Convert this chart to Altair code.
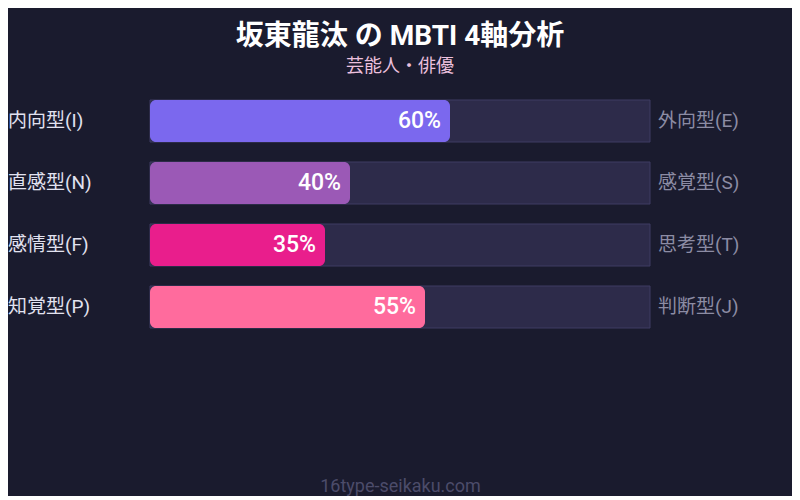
import altair as alt
import pandas as pd

left_labels = ["内向型(I)", "直感型(N)", "感情型(F)", "知覚型(P)"]
right_labels = ["外向型(E)", "感覚型(S)", "思考型(T)", "判断型(J)"]
values = [60, 40, 35, 55]
bar_colors = ["#7b68ee", "#9b59b6", "#e91e8c", "#ff6b9d"]

title_text = "坂東龍汰 の MBTI 4軸分析"
subtitle_text = "芸能人・俳優"
footer_text = "16type-seikaku.com"

df = pd.DataFrame({
    "left": left_labels,
    "right": right_labels,
    "value": values,
    "pct": [f"{v}%" for v in values],
    "start": [0] * 4,
    "end": [100] * 4,
})

FONT = "Roboto, 'Noto Sans CJK JP', sans-serif"
BG = "#1a1b2e"

xscale = alt.Scale(domain=[0, 100], nice=False, zero=False)
yenc = alt.Y("left:N", sort=left_labels, axis=None,
             scale=alt.Scale(paddingInner=20 / 62, paddingOuter=10 / 62))

base = alt.Chart(df)

track = base.mark_bar(color="#2d2b4a", stroke="#3f3d63", strokeWidth=1, cornerRadius=0).encode(
    x=alt.X("start:Q", scale=xscale,
            axis=alt.Axis(labels=False, ticks=False, domain=False, grid=False,
                          title=footer_text, titleFontSize=18, titleColor="#4c4c6a",
                          titleFontWeight="normal", titleFont=FONT,
                          titleBaseline="alphabetic", titlePadding=153)),
    x2="end:Q",
    y=yenc,
)

bars = base.mark_bar(cornerRadius=6).encode(
    x=alt.X("start:Q", scale=xscale),
    x2="value:Q",
    y=yenc,
    color=alt.Color("left:N", sort=left_labels,
                    scale=alt.Scale(domain=left_labels, range=bar_colors), legend=None),
)

pct = base.mark_text(align="right", baseline="middle", dx=-9, fontSize=23,
                     fontWeight=500, color="#ffffff", font=FONT).encode(
    x=alt.X("value:Q", scale=xscale), y=yenc, text="pct:N")

left_text = base.mark_text(align="left", baseline="middle", dx=-142, fontSize=19,
                           color="#e2e2f0", font=FONT).encode(
    x=alt.X("start:Q", scale=xscale), y=yenc, text="left:N")

right_text = base.mark_text(align="left", baseline="middle", dx=8, fontSize=19,
                            color="#8c8ca4", font=FONT).encode(
    x=alt.X("end:Q", scale=xscale), y=yenc, text="right:N")

chart = alt.layer(track, bars, pct, left_text, right_text).properties(
    width=500,
    height=248,
    background=BG,
    padding={"left": 142, "top": 82, "right": 142, "bottom": 158},
    autosize=alt.AutoSizeParams(type="none"),
    title=alt.TitleParams(
        text=title_text, subtitle=subtitle_text, anchor="middle",
        font=FONT, fontSize=28, fontWeight="bold", color="#ffffff",
        subtitleFont=FONT, subtitleFontSize=18, subtitleColor="#ecc0de",
        subtitlePadding=7, offset=14,
    ),
).configure_view(stroke=None)

chart.save("out.html", embed_options={"renderer": "svg", "actions": False})
